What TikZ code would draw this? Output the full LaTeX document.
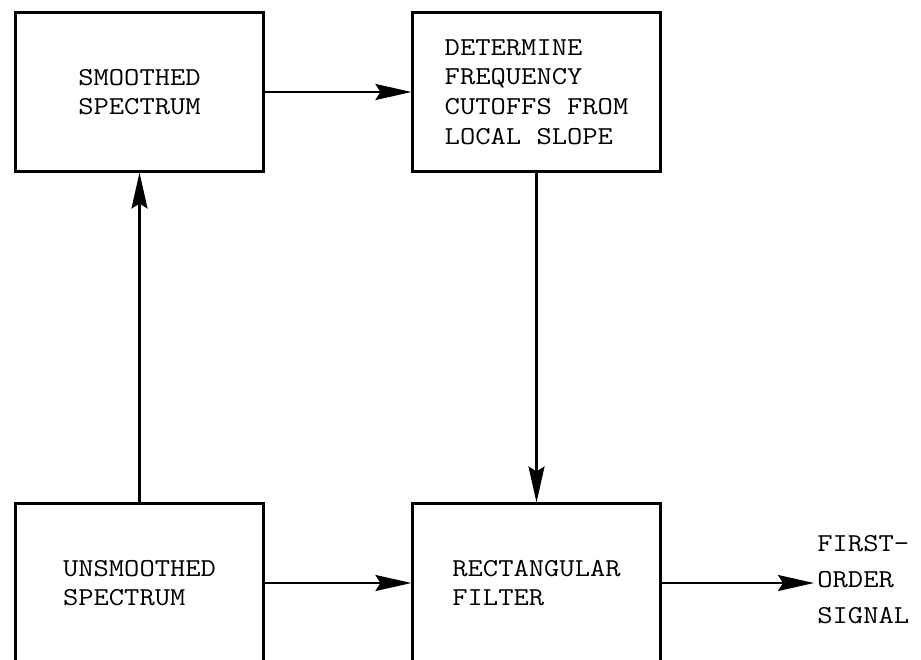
\documentclass[tikz,border=0pt]{standalone}
\usepackage{fontspec}
\setmonofont{Latin Modern Mono}[FakeStretch=1.15]
\usepackage{tikz}
\usetikzlibrary{arrows.meta, positioning}
\tikzset{
  flowbox/.style={
    draw, line width=1.2pt, align=left,
    minimum width=49.6mm, minimum height=31.8mm,
    font=\ttfamily\fontsize{14.7}{16.8}\selectfont, fill=white
  },
  outlabel/.style={align=left, inner sep=0pt,
    font=\ttfamily\fontsize{14.7}{20.5}\selectfont},
  flowarrow/.style={-{Stealth[length=7.2mm, width=3.2mm, inset=1mm]}, line width=1.2pt},
}
\begin{document}
\begin{tikzpicture}[x=0.2mm, y=-0.2mm]
  \useasboundingbox (0,0) rectangle (921,659);
  \clip (0,0) rectangle (921,659);
  \node[flowbox] (smoothed) at (139.5,92) {SMOOTHED\\SPECTRUM};
  \node[flowbox] (cutoffs) at (536.5,92) {DETERMINE\\FREQUENCY\\CUTOFFS FROM\\LOCAL SLOPE};
  \node[flowbox] (unsmoothed) at (139.5,583) {UNSMOOTHED\\SPECTRUM};
  \node[flowbox] (filter) at (536.5,583) {RECTANGULAR\\FILTER};
  \node[outlabel, anchor=west] (signal) at (817,580) {FIRST-\\ORDER\\SIGNAL};
  \draw[flowarrow] (smoothed) -- (cutoffs);
  \draw[flowarrow] (unsmoothed) -- (smoothed);
  \draw[flowarrow] (cutoffs) -- (filter);
  \draw[flowarrow] (unsmoothed) -- (filter);
  \draw[flowarrow] (filter.east) -- ([xshift=-0.6mm]signal.west |- filter.east);
\end{tikzpicture}
\end{document}
